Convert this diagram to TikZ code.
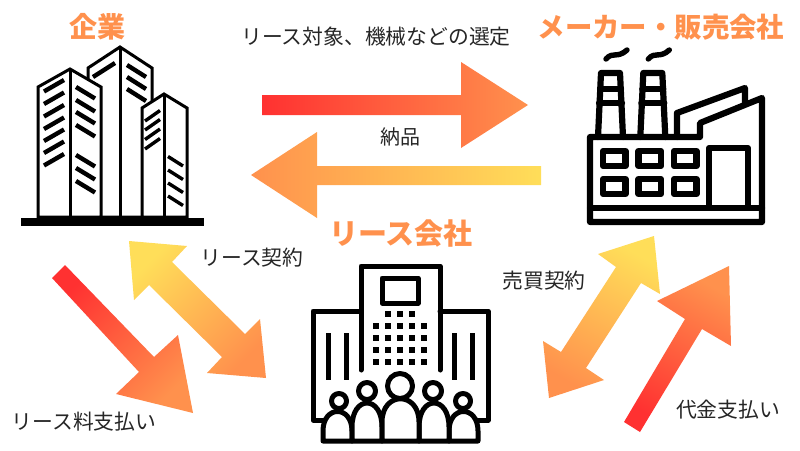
\documentclass[tikz,border=0pt]{standalone}
\usepackage{fontspec}
\setmainfont{Noto Sans CJK JP}[BoldFont={Noto Sans CJK JP Black}]
\definecolor{redc}{HTML}{FF3131}
\definecolor{orangec}{HTML}{FF914D}
\definecolor{yellowc}{HTML}{FFDE59}
\tikzset{
  lab/.style={font=\fontsize{20.8}{22}\selectfont,text=black!85,inner sep=0pt},
  head/.style={font=\fontsize{27.4}{28}\selectfont\bfseries,text=orangec,inner sep=0pt},
  ico/.style={draw=black,line join=miter,fill=white},
  bar/.style={draw=black,line width=4.4pt},
  fac/.style={draw=black,line width=6.2pt,line join=round,line cap=round},
  com/.style={draw=black,line width=5pt,line join=round,line cap=round},
}
\begin{document}
\begin{tikzpicture}[x=1pt,y=-1pt]
\useasboundingbox (0,0) rectangle (800,450);
\fill[white] (0,0) rectangle (800,450);

% block arrows
\shade[left color=redc,right color=orangec] (262,95)--(461,95)--(461,62)--(528,105)--(461,148)--(461,115)--(262,115)--cycle;
\shade[left color=orangec,right color=yellowc] (541,166)--(317,166)--(317,132)--(251,175)--(317,218)--(317,185)--(541,185)--cycle;
\shade[top color=redc,bottom color=orangec,shading angle=45] (52,278)--(65,265)--(154,357)--(178,335)--(193,413)--(116,394)--(139,372)--cycle;
\shade[top color=yellowc,bottom color=orangec,shading angle=45] (129,241)--(187,246)--(172,262)--(245,334)--(260,319)--(266,378)--(207,373)--(222,357)--(149,285)--(134,300)--cycle;
\shade[top color=yellowc,bottom color=orangec,shading angle=-30] (654,236)--(660,294)--(641,283)--(586,368)--(604,380)--(549,398)--(543,341)--(561,352)--(616,267)--(598,254)--cycle;
\shade[top color=orangec,bottom color=redc,shading angle=-30] (624,422)--(640,432)--(702,329)--(731,346)--(729,266)--(657,301)--(685,319)--cycle;

% company building icon
\begin{scope}[line width=3pt]
\draw[ico] (88,78)--(88,68)--(120,47)--(152,68)--(152,110)--(152,217)--(88,217)--cycle;
\draw (120,47)--(120,217);
\draw[ico] (38,217)--(38,87)--(70,69)--(101,87)--(101,217)--cycle;
\draw (70,69)--(70,217);
\draw[ico] (142,217)--(142,108)--(164,94)--(187,108)--(187,217)--cycle;
\draw (164,94)--(164,217);
\end{scope}
\fill[black] (21,218) rectangle (204,226);
\foreach \y in {91.5,104,116.5,129,141,153,165.5}
  \draw[bar] (44,\y)--(64,\y-11.5);
\foreach \y in {87,100,112,125,155,168,181}
  \draw[bar] (76,\y)--(95,\y+11.5);
\draw[bar] (93,77)--(115,63);
\foreach \y in {65,77,89}
  \draw[bar] (127,\y)--(146,\y+12);
\foreach \y in {121,130,139.5,149}
  \draw[bar,line width=3.4pt] (145,\y)--(160,\y-10.5);
\foreach \y in {156.5,170,183,196}
  \draw[bar,line width=3.4pt] (168,\y)--(183,\y+9.5);

% factory icon
\begin{scope}
\draw[fac] (590,137)--(700,137)--(700,123)--(762,98)--(762,222)--(590,222)--cycle;
\draw[fac] (590,208)--(762,208);
\draw[fac] (677,137)--(677,113)--(745,88)--(745,104);
\foreach \dx in {0,42.3}{
  \begin{scope}[xshift=\dx pt]
  \draw[fac] (598,137)--(601,73)--(620,73)--(623,137);
  \draw[fac] (600,89)--(621,89);
  \draw[fac] (599,103)--(622,103);
  \draw[draw=black,line width=5.4pt,line cap=round] (606,59) .. controls (613,51) and (617,59) .. (627,50);
  \end{scope}
}
\foreach \x in {603,638.5,674}
  \foreach \y in {151,179}
    \draw[fac] (\x,\y) rectangle (\x+22.5,\y+15);
\draw[fac] (709,207)--(709,148)--(748,148)--(748,207);
\end{scope}

% lease company icon
\draw[com] (361,420)--(313,420)--(313,311)--(361,311);
\draw[com] (440,420)--(488,420)--(488,311)--(440,311);
\draw[com] (361,370)--(361,266)--(440,266)--(440,370);
\draw[com] (382,278) rectangle (418,303);
\foreach \x in {388,400,412}
  \fill (\x-3,311) rectangle (\x+3,317);
\foreach \x in {376,388,400,412,424}
  \foreach \y in {326,338,350,362}
    \fill (\x-3,\y-3) rectangle (\x+3,\y+3);
\foreach \x in {328,346,454,472}
  \fill (\x-2.5,333) rectangle (\x+2.5,380);
\draw[com,fill=white] (323,441)--(323,431) .. controls (323,405) and (352,405) .. (352,431)--(352,441)--cycle;
\draw[com,fill=white] (449,441)--(449,431) .. controls (449,405) and (478,405) .. (478,431)--(478,441)--cycle;
\draw[com,fill=white] (352,441)--(352,427) .. controls (352,395) and (382,395) .. (382,427)--(382,441)--cycle;
\draw[com,fill=white] (419,441)--(419,427) .. controls (419,395) and (449,395) .. (449,427)--(449,441)--cycle;
\draw[com,fill=white] (382,441)--(382,422) .. controls (382,391) and (419,391) .. (419,422)--(419,441)--cycle;
\draw[com,fill=white] (339,401) circle (7.5);
\draw[com,fill=white] (463,401) circle (7.5);
\draw[com,fill=white] (367,391) circle (8.5);
\draw[com,fill=white] (433,391) circle (8.5);
\draw[com,fill=white] (400,386) circle (12.5);

% texts
\node[head] (kigyo) at (97,27) {\fontsize{28}{28}\selectfont 企業};
\node[head] (maker) at (661,27) {メーカー・販売会社};
\node[head] (lease) at (401,234) {\fontsize{29}{30}\selectfont リース会社};
\node[lab] (t1) at (376,37) {リース対象、機械などの選定};
\node[lab] (t2) at (400,137) {\fontsize{20}{22}\selectfont 納品};
\node[lab] (t3) at (252,258) {リース契約};
\node[lab] (t4) at (84,422) {リース料支払い};
\node[lab] (t5) at (544,281) {売買契約};
\node[lab] (t6) at (728,410) {代金支払い};
\end{tikzpicture}
\end{document}
